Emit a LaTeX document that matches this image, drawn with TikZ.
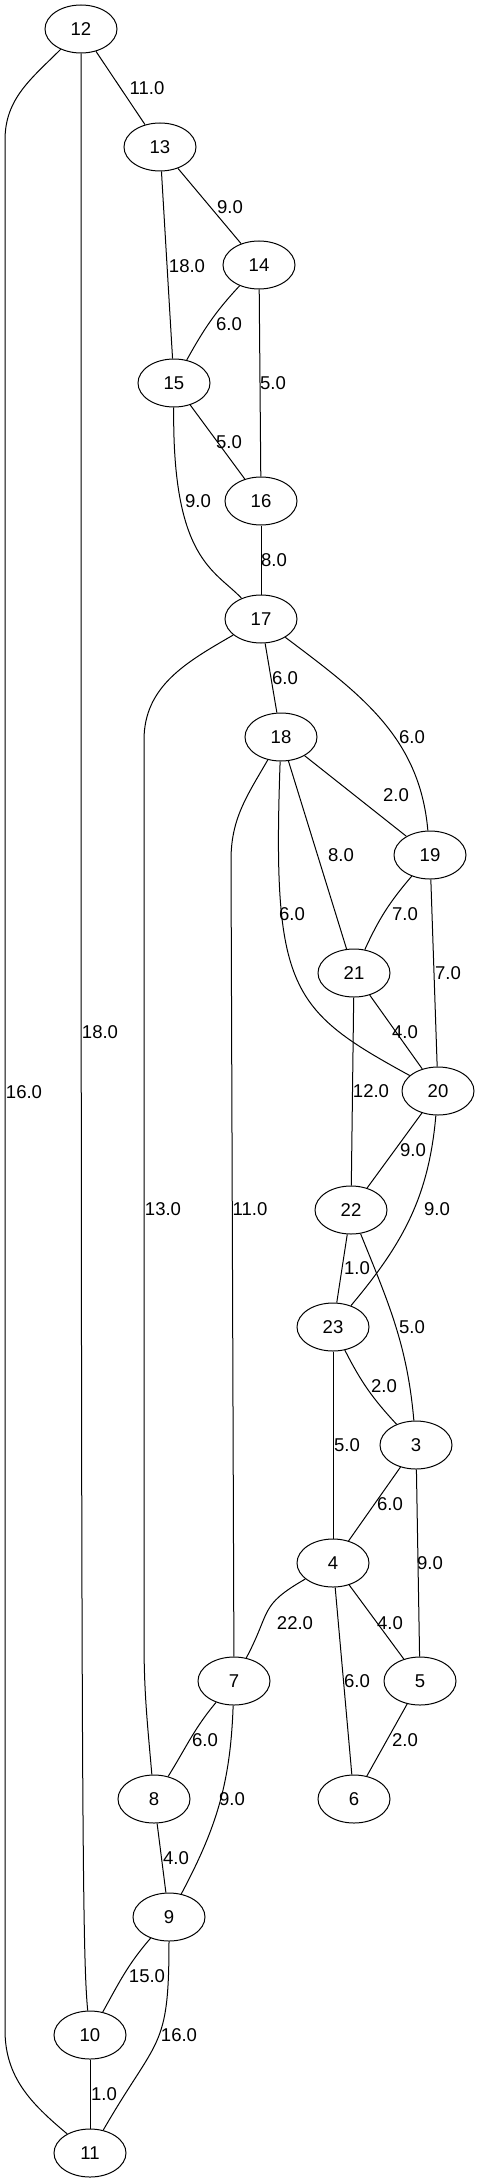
\documentclass[tikz,border=0pt]{standalone}
\usepackage{fontspec}
\setmainfont{Liberation Sans}
\usetikzlibrary{shapes.geometric}

\begin{document}
\begin{tikzpicture}[x=0.75pt,y=-0.75pt,line width=0.75pt,
    vtx/.style={draw,ellipse,minimum width=54pt,minimum height=36pt,inner sep=0pt,font=\fontsize{13.9}{16}\selectfont},
    wt/.style={inner sep=0pt,font=\fontsize{13.9}{16}\selectfont}]
        \useasboundingbox (0,0) rectangle (480,2183);
        % vertices
        \foreach \v/\px/\py in {12/81/29, 13/160/147, 14/259/265, 15/174/383, 16/261/501, 17/261/619,
            18/281/737, 19/430/855, 21/354/973, 20/438/1091, 22/351/1210, 23/333/1327, 3/416/1445,
            4/333/1563, 7/234/1681, 5/420/1681, 8/154/1799, 6/354/1799, 9/169/1917, 10/90/2035, 11/90/2153}
            {\node[vtx] (n\v) at (\px,\py) {\v};}
        % straight edges with weights
        \foreach \a/\b/\w/\lx/\ly in {12/13/11.0/147/88, 13/14/9.0/230/207, 13/15/18.0/187/266,
            14/16/5.0/273/383, 15/16/5.0/229/442, 16/17/8.0/274/560, 17/18/6.0/285/678,
            18/19/2.0/396/795, 18/21/8.0/341/855, 19/20/7.0/448/973, 21/20/4.0/405/1032,
            21/22/12.0/371/1091, 20/22/9.0/413/1150, 22/23/1.0/357/1268, 23/4/5.0/347/1445,
            3/4/6.0/390/1504, 3/5/9.0/430/1563, 4/5/4.0/390/1623, 4/6/6.0/357/1681,
            5/6/2.0/405/1740, 8/9/4.0/176/1858, 10/11/1.0/104/2094}
            {\draw (n\a) -- (n\b);
             \node[wt] (w\a-\b) at (\lx,\ly) {\w};}
        % curved edges
        \draw (n12) .. controls (81,1800) and (82,1950) .. (n10);
        \node[wt] (w12-10) at (100,1032) {18.0};
        \draw (n12) to[out=-135,in=90] (5,140) -- (5,2030) to[out=-90,in=140] (n11);
        \node[wt] (w12-11) at (24,1092) {16.0};
        \draw (n14) to[out=-133,in=61] (n15);
        \node[wt] (w14-15) at (229,324) {6.0};
        \draw (n15) .. controls (172,560) and (215,570) .. (n17);
        \node[wt] (w15-17) at (198,501) {9.0};
        \draw (n17) to[out=-37,in=95] (n19);
        \node[wt] (w17-19) at (412,737) {6.0};
        \draw (n17) to[out=-150,in=90] (144,740) -- (144,1640) to[out=-90,in=95] (n8);
        \node[wt] (w17-8) at (163,1209) {13.0};
        \draw (n18) to[out=-120,in=90] (231,860) -- (n7);
        \node[wt] (w18-7) at (250,1209) {11.0};
        \draw (n18) .. controls (272,990) and (290,1010) .. (n20);
        \node[wt] (w18-20) at (292,914) {6.0};
        \draw (n19) to[bend right=8] (n21);
        \node[wt] (w19-21) at (405,914) {7.0};
        \draw (n20) to[out=-95,in=50] (n23);
        \node[wt] (w20-23) at (437,1209) {9.0};
        \draw (n22) to[out=-68,in=95] (n3);
        \node[wt] (w22-3) at (412,1327) {5.0};
        \draw (n23) to[bend right=8] (n3);
        \node[wt] (w23-3) at (384,1386) {2.0};
        \draw (n4) to[out=-150,in=62,looseness=1.4] (n7);
        \node[wt] (w4-7) at (295,1623) {22.0};
        \draw (n7) to[out=-130,in=58] (n8);
        \node[wt] (w7-8) at (205,1740) {6.0};
        \draw (n7) to[out=-92,in=62] (n9);
        \node[wt] (w7-9) at (232,1799) {9.0};
        \draw (n9) to[out=-131,in=61] (n10);
        \node[wt] (w9-10) at (147,1976) {15.0};
        \draw (n9) to[out=-90,in=60,looseness=1.4] (n11);
        \node[wt] (w9-11) at (179,2035) {16.0};
\end{tikzpicture}
\end{document}
